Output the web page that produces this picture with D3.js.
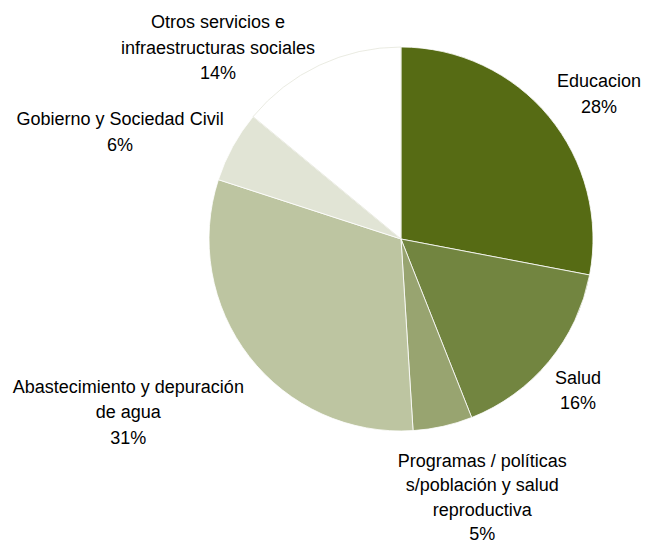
<!DOCTYPE html>
<html>
<head>
<meta charset="utf-8">
<script src="https://cdn.jsdelivr.net/npm/d3@7"></script>
<style>
  body { margin: 0; background: #fff; }
  text { font-family: "Liberation Sans", Arial, sans-serif; font-size: 18px; fill: #000; }
</style>
</head>
<body>
<svg id="chart" width="647" height="545"></svg>
<script>
// Data
const categories = [
  ["Educacion"],
  ["Salud"],
  ["Programas / políticas", "s/población y salud", "reproductiva"],
  ["Abastecimiento y depuración", "de agua"],
  ["Gobierno y Sociedad Civil"],
  ["Otros servicios e", "infraestructuras sociales"]
];
const values = [28, 16, 5, 31, 6, 14];
const colors = ["#566b14", "#728540", "#98a470", "#bdc5a1", "#e1e4d5", "#ffffff"];

// label nudges from the centroid of the label arc
const nudges = [[17, 4.5], [-4, 1.5], [30, 29], [-87, 29], [-75, 6], [-83, 21]];

const attr = { cx: 401, cy: 239, radius: 192, labelRadius: 235, lineHeight: 25.5 };

const svg = d3.select("svg#chart");
const g = svg.append("g").attr("transform", `translate(${attr.cx},${attr.cy})`);

const pie = d3.pie().sort(null).value(d => d);
const arcs = pie(values);

const arc = d3.arc().innerRadius(0).outerRadius(attr.radius);
const labelArc = d3.arc().innerRadius(attr.labelRadius).outerRadius(attr.labelRadius);

g.selectAll("path.slice")
  .data(arcs)
  .enter()
  .append("path")
  .attr("class", "slice")
  .attr("d", arc)
  .style("fill", (d, i) => colors[i])
  .style("stroke", (d, i) => i == 5 ? "#e4e6da" : "#ffffff")
  .style("stroke-width", 0.8);

// Labels
const labels = g.selectAll("text.label")
  .data(arcs)
  .enter()
  .append("text")
  .attr("class", "label")
  .attr("text-anchor", "middle")
  .attr("transform", (d, i) => {
    let c = labelArc.centroid(d);
    return `translate(${c[0] + nudges[i][0]},${c[1] + nudges[i][1]})`;
  });

labels.each(function(d, i) {
  let lines = categories[i].concat([values[i] + "%"]);
  let n = lines.length;
  let lh = n > 3 ? 24.5 : attr.lineHeight;
  d3.select(this).selectAll("tspan")
    .data(lines)
    .enter()
    .append("tspan")
    .attr("x", 0)
    .attr("y", (t, j) => (j - (n - 1) / 2) * lh)
    .attr("dy", "0.35em")
    .text(t => t);
});
</script>
</body>
</html>
